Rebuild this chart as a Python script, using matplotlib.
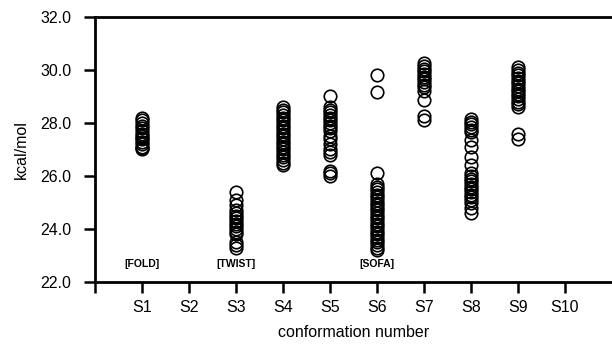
import matplotlib
matplotlib.use("Agg")
import matplotlib.pyplot as plt

conformations = ["S1", "S2", "S3", "S4", "S5", "S6", "S7", "S8", "S9", "S10"]

s1 = [27.0, 27.05, 27.1, 27.2, 27.3, 27.4, 27.45, 27.5, 27.6, 27.7, 27.8, 27.9, 28.0, 28.1, 28.2]
s2 = []
s3 = [23.3, 23.4, 23.5, 23.8, 23.9, 24.0, 24.1, 24.2, 24.3, 24.4, 24.5, 24.6, 24.7, 24.9, 25.1, 25.4]
s4 = [26.4, 26.5, 26.6, 26.7, 26.8, 26.9, 27.0, 27.1, 27.2, 27.3, 27.4, 27.5, 27.6, 27.7, 27.8, 27.9,
      28.0, 28.1, 28.2, 28.3, 28.4, 28.5, 28.6]
s5 = [26.0, 26.1, 26.2, 26.8, 26.9, 27.0, 27.2, 27.4, 27.5, 27.7, 27.8, 27.9, 28.0, 28.1, 28.2,
      28.3, 28.4, 28.5, 28.6, 29.0]
s6 = [23.2, 23.3, 23.4, 23.5, 23.6, 23.7, 23.8, 23.9, 24.0, 24.1, 24.2, 24.3, 24.4, 24.5, 24.6,
      24.7, 24.8, 24.9, 25.0, 25.1, 25.2, 25.3, 25.4, 25.5, 25.6, 25.7, 26.1, 29.15, 29.8]
s7 = [28.1, 28.25, 28.85, 29.2, 29.35, 29.45, 29.55, 29.65, 29.75, 29.85, 29.95, 30.05, 30.15, 30.25]
s8 = [24.6, 24.8, 25.0, 25.1, 25.2, 25.3, 25.4, 25.5, 25.6, 25.7, 25.8, 25.9, 26.0, 26.1, 26.4,
      26.7, 27.1, 27.35, 27.65, 27.75, 27.85, 27.95, 28.05, 28.15]
s9 = [27.4, 27.6, 28.6, 28.7, 28.8, 28.9, 29.0, 29.1, 29.2, 29.3, 29.4, 29.5, 29.6, 29.7, 29.8,
      29.9, 30.0, 30.1]
s10 = []
series = [s1, s2, s3, s4, s5, s6, s7, s8, s9, s10]

labels = {"S1": "[FOLD]", "S3": "[TWIST]", "S6": "[SOFA]"}
label_y = 22.68

yticks = [22.0, 24.0, 26.0, 28.0, 30.0, 32.0]

FONT = "Liberation Sans"

fig = plt.figure(figsize=(6.12, 3.53), dpi=100)
ax = fig.add_axes([0.155, 0.201, 0.845, 0.751])

for i, vals in enumerate(series, start=1):
    if vals:
        ax.plot([i] * len(vals), vals, linestyle="none", marker="o", markersize=9,
                markerfacecolor="none", markeredgecolor="black", markeredgewidth=1.2)

for i, name in enumerate(conformations, start=1):
    if name in labels:
        ax.text(i, label_y, labels[name], ha="center", va="center", fontsize=7.5,
                fontweight="bold", family=FONT)

ax.set_xlim(0, 11.0)
ax.set_ylim(22.0, 32.0)
ax.set_xticks(range(0, len(conformations) + 1))
ax.set_xticklabels([""] + conformations, family=FONT, fontsize=11.5)
ax.set_yticks(yticks)
ax.set_yticklabels([f"{v:.1f}" for v in yticks], family=FONT, fontsize=11.5)
ax.tick_params(axis="both", direction="out", length=8, width=1.8)
ax.tick_params(axis="x", pad=5)
ax.tick_params(axis="y", pad=9)

for side in ["left", "bottom", "top"]:
    ax.spines[side].set_linewidth(2.0)
ax.spines["right"].set_visible(False)

ax.set_xlabel("conformation number", family=FONT, fontsize=11.5, labelpad=7)
ax.set_ylabel("kcal/mol", family=FONT, fontsize=11.5, labelpad=8)

fig.savefig("out.png", dpi=100)
